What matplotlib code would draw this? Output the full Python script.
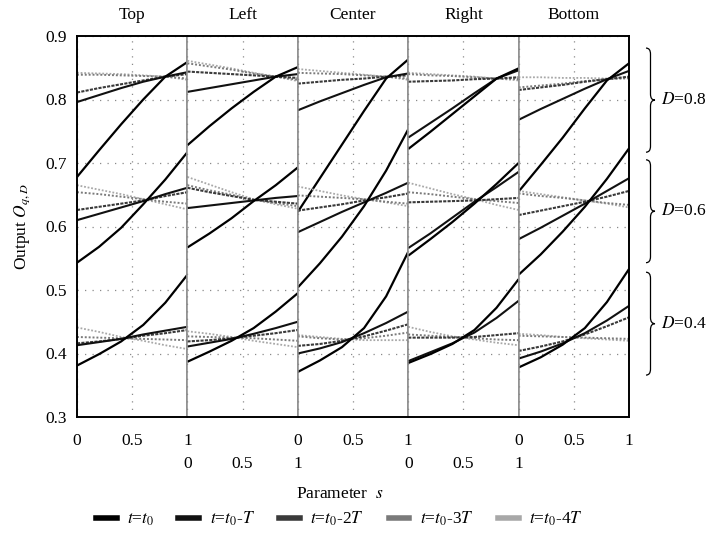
import matplotlib
matplotlib.use("Agg")
import matplotlib.pyplot as plt
from matplotlib.lines import Line2D
from matplotlib.path import Path
from matplotlib.patches import PathPatch

plt.rcParams["font.family"] = ["Liberation Serif", "DejaVu Serif"]
plt.rcParams["mathtext.fontset"] = "stix"

# parameter s sampled along every curve
s = [0.0, 0.2, 0.4, 0.6, 0.8, 1.0]

panels = ["Top", "Left", "Center", "Right", "Bottom"]
series = [r"$t$=$t_0$", r"$t$=$t_0$-$T$", r"$t$=$t_0$-2$T$",
          r"$t$=$t_0$-3$T$", r"$t$=$t_0$-4$T$"]
d_values = [0.8, 0.6, 0.4]

# rows: t0, t0-T, t0-2T, t0-3T, t0-4T
top_08 = [[0.678, 0.720, 0.761, 0.800, 0.836, 0.859],
          [0.796, 0.807, 0.818, 0.828, 0.836, 0.843],
          [0.811, 0.818, 0.824, 0.830, 0.836, 0.840],
          [0.839, 0.839, 0.838, 0.837, 0.836, 0.833],
          [0.842, 0.841, 0.840, 0.838, 0.836, 0.831]]
top_06 = [[0.543, 0.568, 0.598, 0.635, 0.674, 0.717],
          [0.610, 0.620, 0.630, 0.640, 0.651, 0.661],
          [0.626, 0.631, 0.636, 0.641, 0.648, 0.654],
          [0.654, 0.651, 0.647, 0.643, 0.639, 0.636],
          [0.665, 0.658, 0.651, 0.643, 0.635, 0.627]]
top_04 = [[0.381, 0.399, 0.419, 0.445, 0.480, 0.524],
          [0.413, 0.418, 0.423, 0.430, 0.436, 0.442],
          [0.416, 0.419, 0.423, 0.428, 0.432, 0.437],
          [0.426, 0.425, 0.424, 0.423, 0.422, 0.421],
          [0.441, 0.434, 0.426, 0.420, 0.413, 0.407]]

left_08 = [[0.728, 0.758, 0.786, 0.812, 0.836, 0.851],
           [0.812, 0.818, 0.824, 0.830, 0.836, 0.840],
           [0.844, 0.842, 0.840, 0.838, 0.836, 0.834],
           [0.857, 0.852, 0.847, 0.841, 0.836, 0.831],
           [0.861, 0.855, 0.849, 0.842, 0.836, 0.829]]
left_06 = [[0.567, 0.589, 0.613, 0.640, 0.665, 0.693],
           [0.629, 0.633, 0.637, 0.641, 0.645, 0.648],
           [0.661, 0.654, 0.648, 0.642, 0.639, 0.636],
           [0.665, 0.657, 0.650, 0.642, 0.637, 0.632],
           [0.678, 0.666, 0.654, 0.643, 0.635, 0.628]]
left_04 = [[0.387, 0.403, 0.420, 0.440, 0.466, 0.495],
           [0.411, 0.417, 0.423, 0.431, 0.440, 0.450],
           [0.419, 0.421, 0.424, 0.428, 0.432, 0.437],
           [0.427, 0.426, 0.425, 0.424, 0.422, 0.420],
           [0.435, 0.431, 0.426, 0.420, 0.415, 0.410]]

center_08 = [[0.623, 0.676, 0.729, 0.782, 0.833, 0.863],
             [0.783, 0.797, 0.810, 0.823, 0.835, 0.841],
             [0.825, 0.828, 0.831, 0.833, 0.836, 0.838],
             [0.842, 0.841, 0.840, 0.838, 0.836, 0.833],
             [0.848, 0.845, 0.842, 0.839, 0.836, 0.831]]
center_06 = [[0.504, 0.542, 0.584, 0.632, 0.688, 0.753],
             [0.591, 0.607, 0.623, 0.638, 0.653, 0.669],
             [0.625, 0.630, 0.635, 0.641, 0.646, 0.652],
             [0.649, 0.647, 0.645, 0.643, 0.639, 0.636],
             [0.663, 0.656, 0.649, 0.643, 0.638, 0.632]]
center_04 = [[0.371, 0.389, 0.410, 0.440, 0.490, 0.560],
             [0.400, 0.408, 0.418, 0.432, 0.448, 0.466],
             [0.412, 0.415, 0.420, 0.427, 0.436, 0.446],
             [0.427, 0.424, 0.422, 0.424, 0.428, 0.433],
             [0.429, 0.426, 0.423, 0.421, 0.421, 0.421]]

right_08 = [[0.722, 0.749, 0.777, 0.805, 0.833, 0.849],
            [0.740, 0.763, 0.786, 0.810, 0.833, 0.846],
            [0.828, 0.829, 0.830, 0.832, 0.833, 0.835],
            [0.840, 0.838, 0.837, 0.835, 0.833, 0.832],
            [0.842, 0.840, 0.838, 0.836, 0.833, 0.830]]
right_06 = [[0.554, 0.580, 0.607, 0.636, 0.667, 0.700],
            [0.566, 0.589, 0.614, 0.639, 0.662, 0.686],
            [0.638, 0.639, 0.640, 0.641, 0.643, 0.645],
            [0.654, 0.651, 0.647, 0.643, 0.640, 0.637],
            [0.669, 0.660, 0.651, 0.643, 0.634, 0.626]]
right_04 = [[0.385, 0.399, 0.415, 0.437, 0.472, 0.517],
            [0.388, 0.402, 0.416, 0.433, 0.456, 0.483],
            [0.425, 0.425, 0.425, 0.426, 0.429, 0.432],
            [0.430, 0.428, 0.426, 0.424, 0.422, 0.421],
            [0.442, 0.434, 0.427, 0.422, 0.417, 0.413]]

bottom_08 = [[0.655, 0.697, 0.740, 0.786, 0.830, 0.857],
             [0.768, 0.785, 0.801, 0.817, 0.832, 0.845],
             [0.815, 0.819, 0.823, 0.828, 0.832, 0.836],
             [0.819, 0.822, 0.825, 0.829, 0.832, 0.834],
             [0.835, 0.835, 0.834, 0.834, 0.833, 0.833]]
bottom_06 = [[0.524, 0.556, 0.592, 0.631, 0.675, 0.723],
             [0.580, 0.598, 0.617, 0.636, 0.656, 0.676],
             [0.618, 0.625, 0.632, 0.639, 0.647, 0.656],
             [0.652, 0.648, 0.645, 0.641, 0.637, 0.634],
             [0.656, 0.651, 0.646, 0.641, 0.636, 0.630]]
bottom_04 = [[0.378, 0.394, 0.414, 0.440, 0.481, 0.533],
             [0.392, 0.403, 0.416, 0.432, 0.452, 0.475],
             [0.404, 0.411, 0.419, 0.430, 0.443, 0.457],
             [0.428, 0.427, 0.426, 0.425, 0.424, 0.423],
             [0.431, 0.429, 0.426, 0.424, 0.422, 0.420]]

groups = {
    "Top": [top_08, top_06, top_04],
    "Left": [left_08, left_06, left_04],
    "Center": [center_08, center_06, center_04],
    "Right": [right_08, right_06, right_04],
    "Bottom": [bottom_08, bottom_06, bottom_04],
}

# brace extents (data units) for each D group
brace_spans = [(0.717, 0.881), (0.543, 0.705), (0.366, 0.528)]

colors = ["#000000", "#111111", "#3a3a3a", "#7a7a7a", "#a8a8a8"]
styles = ["-", "-", (0, (1.5, 0.6)), (0, (1, 1)), (0, (1, 1))]
widths = [1.6, 1.5, 1.5, 1.4, 1.3]

W, H = 707, 533
fig = plt.figure(figsize=(W / 100, H / 100), dpi=100)

x_left, x_right = 77, 629
y_top, y_bot = 36, 417
pw = (x_right - x_left) / 5
axes = []
for i, name in enumerate(panels):
    ax = fig.add_axes([(x_left + i * pw) / W, 1 - y_bot / H, pw / W, (y_bot - y_top) / H])
    axes.append(ax)
    ax.set_xlim(0, 1)
    ax.set_ylim(0.3, 0.9)
    ax.set_yticks([0.3, 0.4, 0.5, 0.6, 0.7, 0.8, 0.9])
    ax.set_xticks([0, 0.5, 1])
    ax.set_xticklabels(["0", "0.5", "1"])
    ax.grid(True, color="#8a8a8a", linestyle=(0, (1, 5)), linewidth=0.9)
    ax.set_axisbelow(True)
    pad = 11.5 if i % 2 == 0 else 28
    ax.tick_params(axis="x", length=0, pad=pad, labelsize=12.5)
    ax.tick_params(axis="y", length=0, pad=7, labelsize=12.5)
    if i > 0:
        ax.tick_params(axis="y", labelleft=False)
    ax.set_title(name, fontsize=12.5, pad=12.5)

    for sp in ax.spines.values():
        sp.set_color("#000000")
        sp.set_linewidth(1.4)
    if i > 0:
        ax.spines["left"].set_color("#8c8c8c")
        ax.spines["left"].set_linewidth(1.1)
    if i < 4:
        ax.spines["right"].set_color("#8c8c8c")
        ax.spines["right"].set_linewidth(1.1)

    for block in groups[name]:
        # draw oldest first so the recent curves end up on top
        for k in range(4, -1, -1):
            ax.plot(s, block[k], color=colors[k], linestyle=styles[k],
                    linewidth=widths[k], solid_capstyle="butt")

axes[0].set_ylabel(r"Output $O_{q,D}$", fontsize=12.5, labelpad=10)
fig.text(0.48, 1 - 494 / H, r"Parameter  $s$", ha="center", va="center", fontsize=12.5)

# braces with D labels on the right side
to_fig = axes[-1].transData + fig.transFigure.inverted()
bx, bw = 646 / W, 9 / W
for (lo, hi), d in zip(brace_spans, d_values):
    y0 = to_fig.transform((0, lo))[1]
    y1 = to_fig.transform((0, hi))[1]
    ym = (y0 + y1) / 2
    r = 6 / H
    xm = bx + bw / 2
    verts = [(bx, y1), (xm, y1), (xm, y1 - r), (xm, ym + r), (xm, ym), (bx + bw, ym),
             (xm, ym), (xm, ym - r), (xm, y0 + r), (xm, y0), (bx, y0)]
    codes = [Path.MOVETO, Path.CURVE3, Path.CURVE3, Path.LINETO, Path.CURVE3, Path.CURVE3,
             Path.CURVE3, Path.CURVE3, Path.LINETO, Path.CURVE3, Path.CURVE3]
    fig.add_artist(PathPatch(Path(verts, codes), transform=fig.transFigure,
                             fill=False, edgecolor="black", linewidth=0.9))
    fig.text(bx + bw + 6 / W, ym, rf"$D$=" + f"{d:.1f}", ha="left", va="center",
             fontsize=12.5)

handles = [Line2D([], [], color=colors[k], linestyle="-", linewidth=4)
           for k in range(5)]
fig.legend(handles, series, loc="center", bbox_to_anchor=(0.48, 1 - 519 / H),
           ncol=5, frameon=False, fontsize=12.5, handlelength=1.2,
           columnspacing=1.4, handletextpad=0.6)

fig.savefig("out.png", dpi=100)
